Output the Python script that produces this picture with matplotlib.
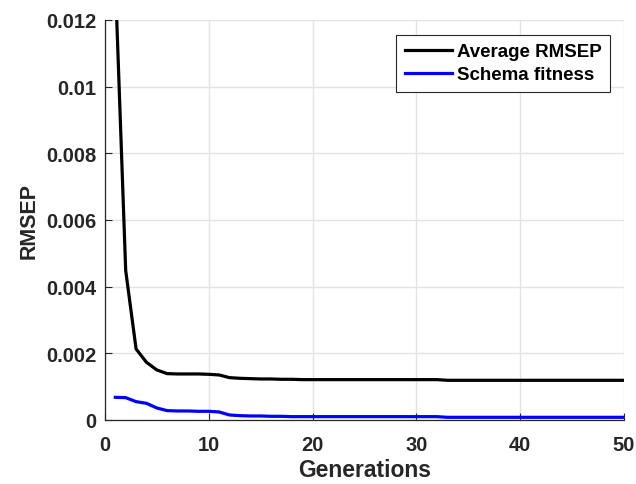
import matplotlib
matplotlib.use('Agg')
import matplotlib.pyplot as plt

generations = list(range(1, 51))

avg_rmsep = [0.0132, 0.00448, 0.00213, 0.00173, 0.00150, 0.00139, 0.00138, 0.00138,
             0.00138, 0.00137, 0.00135, 0.00127, 0.00125, 0.00124, 0.00123, 0.00123,
             0.00122, 0.00122] + [0.00121] * 14 + [0.00119] * 18

schema_fitness = [0.00068, 0.00067, 0.00055, 0.00050, 0.00036, 0.00028, 0.00027, 0.00027,
                  0.00026, 0.00026, 0.00024, 0.00015, 0.00013, 0.00012, 0.00012, 0.00011,
                  0.00011, 0.00010] + [0.00010] * 14 + [0.00008] * 18

x_ticks = [0, 10, 20, 30, 40, 50]
y_ticks = [0, 0.002, 0.004, 0.006, 0.008, 0.01, 0.012]
y_tick_labels = ['0', '0.002', '0.004', '0.006', '0.008', '0.01', '0.012']

plt.rcParams['font.family'] = ['Liberation Sans', 'DejaVu Sans']
plt.rcParams['font.weight'] = 'bold'

fig = plt.figure(figsize=(6.36, 4.85), dpi=100)
ax = fig.add_axes([0.165, 0.132, 0.816, 0.825])

ax.plot(generations, avg_rmsep, color='black', linewidth=2.3, label='Average RMSEP')
ax.plot(generations, schema_fitness, color='#0000ff', linewidth=2.3, label='Schema fitness')

ax.set_xlim(0, 50)
ax.set_ylim(0, 0.012)
ax.set_xticks(x_ticks)
ax.set_xticklabels([str(t) for t in x_ticks])
ax.set_yticks(y_ticks)
ax.set_yticklabels(y_tick_labels)
ax.tick_params(direction='in', length=5, width=0.8, colors='#262626', labelsize=14.5)
ax.tick_params(axis='x', pad=11)
ax.tick_params(axis='y', pad=6)

ax.grid(True, color='#e3e3e3', linewidth=1)
ax.set_axisbelow(True)
for side in ['top', 'right']:
    ax.spines[side].set_visible(False)
for side in ['left', 'bottom']:
    ax.spines[side].set_color('#262626')
    ax.spines[side].set_linewidth(0.9)

ax.set_xlabel('Generations', fontsize=16.5, fontweight='bold', color='#262626', labelpad=3)
ax.set_ylabel('RMSEP', fontsize=15.5, fontweight='bold', color='#262626', labelpad=5)

leg = ax.legend(loc='upper right', bbox_to_anchor=(0.973, 0.9625), fontsize=13.5,
                frameon=True, fancybox=False, handlelength=2.5, handletextpad=0.27,
                borderpad=0.45, labelspacing=0.3, borderaxespad=0)
leg.get_frame().set_edgecolor('#262626')
leg.get_frame().set_linewidth(0.8)
leg.get_frame().set_alpha(1)

plt.savefig('out.png', dpi=100)
